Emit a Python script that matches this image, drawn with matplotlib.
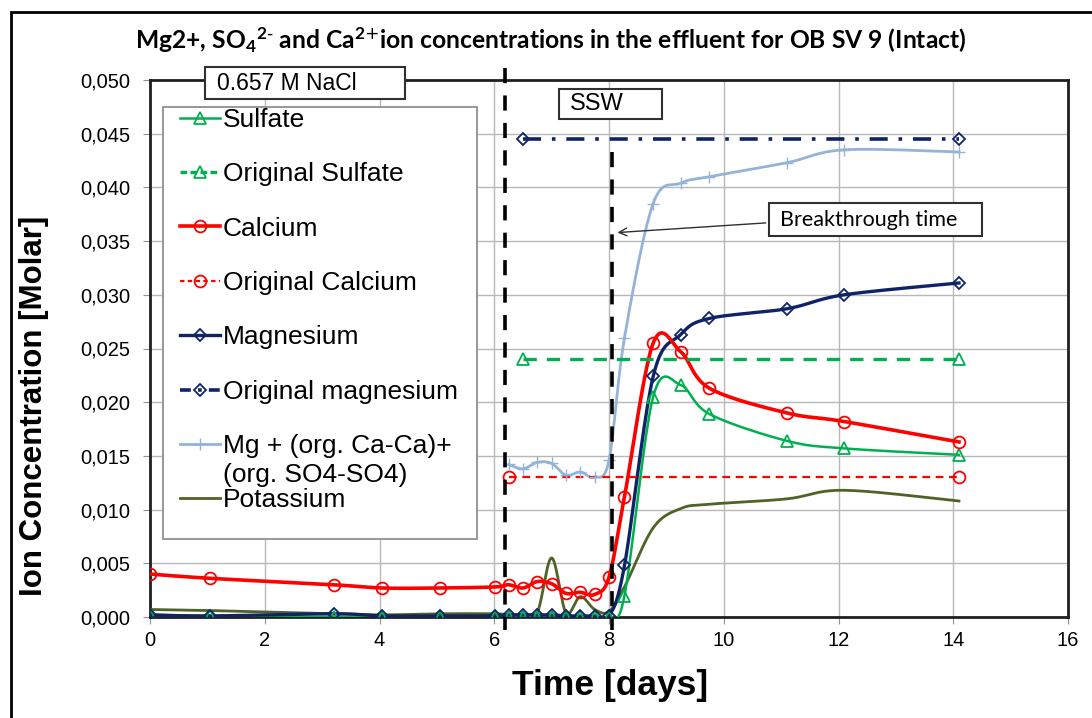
import numpy as np
import matplotlib.pyplot as plt
from matplotlib.patches import Rectangle
from matplotlib.lines import Line2D

# ---------------- data ----------------
t_ca = [0, 1.05, 3.2, 4.05, 5.05, 6.02, 6.25, 6.5, 6.75, 7.0, 7.25, 7.5, 7.75, 8.0, 8.27, 8.77, 9.25, 9.75, 11.1, 12.1, 14.1]
calcium = [0.0040, 0.0036, 0.0030, 0.0027, 0.0027, 0.0028, 0.0030, 0.0027, 0.0033, 0.0031, 0.0022, 0.0023, 0.0021, 0.0037,
           0.0112, 0.0255, 0.0247, 0.0213, 0.0190, 0.0182, 0.0163]
sulfate = [0.0002, 0.0001, 0.0000, 0.0000, 0.0000, 0.0000, 0.0000, 0.0000, 0.0000, 0.0000, 0.0000, 0.0000, 0.0000, 0.0000,
           0.0020, 0.0205, 0.0216, 0.0189, 0.0164, 0.0157, 0.0151]
magnesium = [0.0002, 0.0001, 0.0003, 0.0001, 0.0001, 0.0001, 0.0002, 0.0002, 0.0002, 0.0002, 0.0001, 0.0001, 0.0001, 0.0001,
             0.0048, 0.0224, 0.0263, 0.0278, 0.0287, 0.0300, 0.0311]
potassium = [0.0007, 0.0006, 0.0003, 0.0002, 0.0003, 0.0003, 0.0002, 0.0002, 0.0004, 0.0055, 0.0004, 0.0019, 0.0007, 0.0005,
             0.0028, 0.0083, 0.0101, 0.0105, 0.0110, 0.0118, 0.0108]

t_sum = [6.25, 6.5, 6.75, 7.0, 7.25, 7.5, 7.75, 8.0, 8.27, 8.77, 9.25, 9.75, 11.1, 12.1, 14.1]
mg_sum = [0.0142, 0.0138, 0.0144, 0.0143, 0.0132, 0.0135, 0.0130, 0.0146, 0.0260, 0.0385, 0.0404, 0.0410, 0.0423, 0.0435, 0.0433]

t_orig_ca = [6.25, 14.1]
orig_ca = [0.013, 0.013]
t_orig = [6.5, 14.1]
orig_so4 = [0.024, 0.024]
orig_mg = [0.0445, 0.0445]

x_ticks = list(range(0, 17, 2))
y_ticks = [i * 0.005 for i in range(11)]
y_labels = [f'{v:.3f}'.replace('.', ',') for v in y_ticks]

labels = ['Sulfate', 'Original Sulfate', 'Calcium', 'Original Calcium', 'Magnesium', 'Original magnesium',
          'Mg + (org. Ca-Ca)+', 'Potassium']
label_cont = '(org. SO4-SO4)'


# ---------------- helpers ----------------
def smooth(x, y, n=20):
    # excel style smoothed line (bezier through the points)
    x = np.asarray(x, float); y = np.asarray(y, float)
    if len(x) < 3:
        return x, y
    px = np.r_[x[0], x, x[-1]]
    py = np.r_[y[0], y, y[-1]]
    xs, ys = [], []
    for i in range(1, len(px) - 2):
        p0, p1, p2, p3 = [np.array([px[j], py[j]]) for j in (i - 1, i, i + 1, i + 2)]
        c1 = p1 + (p2 - p0) / 6
        c2 = p2 - (p3 - p1) / 6
        s = np.linspace(0, 1, n, endpoint=False)[:, None]
        pts = (1 - s) ** 3 * p1 + 3 * (1 - s) ** 2 * s * c1 + 3 * (1 - s) * s ** 2 * c2 + s ** 3 * p2
        xs.append(pts[:, 0]); ys.append(pts[:, 1])
    xs.append([x[-1]]); ys.append([y[-1]])
    return np.concatenate(xs), np.concatenate(ys)


def draw(ax, x, y, color, marker, lw=2.2, ms=8, ls='-', mew=1.3):
    sx, sy = smooth(x, y)
    ax.plot(sx, sy, color=color, lw=lw, ls=ls, zorder=3)
    if marker:
        ax.plot(x, y, ls='none', marker=marker, ms=ms, mfc='none', mec=color, mew=mew, zorder=4)


green = '#00b050'
red = '#ff0000'
navy = '#0f2466'
light = '#95b3d7'
olive = '#4f6228'

plt.rcParams['font.family'] = ['Liberation Sans', 'DejaVu Sans']
plt.rcParams['mathtext.default'] = 'regular'

fig = plt.figure(figsize=(10.92, 7.18), dpi=100)
ax = fig.add_axes([150 / 1092, 1 - 617 / 718, (1068 - 150) / 1092, (617 - 80) / 718])

# vertical markers (drawn from the top down)
ax.plot([6.18, 6.18], [0.0511, -0.0012], color='black', lw=2.6, ls=(0, (4.2, 3.4)), clip_on=False, zorder=5)
ax.plot([8.05, 8.05], [0.0433, -0.0012], color='black', lw=2.6, ls=(0, (4.2, 3.4)), clip_on=False, zorder=5)

draw(ax, t_ca, potassium, olive, None, lw=2.0)
draw(ax, t_sum, mg_sum, light, '+', lw=2.0, ms=9, mew=1.0)
draw(ax, t_ca, sulfate, green, '^', lw=1.8, ms=8)
draw(ax, t_ca, magnesium, navy, 'D', lw=2.4, ms=6.5)
draw(ax, t_ca, calcium, red, 'o', lw=2.6, ms=8.5)
ax.plot(t_orig_ca, orig_ca, color=red, lw=1.6, ls=(0, (3.5, 2.5)), marker='o', ms=8.5, mfc='none', mew=1.3, zorder=3)
ax.plot(t_orig, orig_so4, color=green, lw=2.4, ls=(0, (4, 3)), marker='^', ms=8, mfc='none', mew=1.3, zorder=3)
ax.plot(t_orig, orig_mg, color=navy, lw=2.6, ls=(0, (5, 3, 1, 3)), marker='D', ms=6.5, mfc='none', mew=1.3, zorder=3)

ax.set_xlim(0, 16)
ax.set_ylim(0, 0.05)
ax.set_xticks(x_ticks)
ax.set_yticks(y_ticks)
ax.set_yticklabels(y_labels)
ax.tick_params(labelsize=14.5, length=5, color='#909090')
ax.tick_params(axis='y', pad=9)
ax.tick_params(axis='x', pad=5)
ax.grid(True, color='#b8b8b8', lw=1.0)
ax.set_axisbelow(True)
for sp in ax.spines.values():
    sp.set_linewidth(2.0)
    sp.set_color('#202020')

ax.set_xlabel('Time [days]', fontsize=25.5, fontweight='bold')
ax.xaxis.set_label_coords((610 - 150) / 918, -(669 - 617) / 537)
ax.set_ylabel('Ion Concentration [Molar]', fontsize=22.5, fontweight='bold')
ax.yaxis.set_label_coords(-(150 - 49) / 918, (617 - 406) / 537)
fig.text(0.504, 1 - 40 / 718,
         r'Mg2+, SO$_4$$^{2\text{-}}$ and Ca$^{2\text{+}}$ion concentrations in the effluent for OB SV 9 (Intact)',
         ha='center', va='center', fontsize=17.7, fontweight='bold', family=['Lato', 'DejaVu Sans'])


# text boxes
def box(x0, x1, y0, y1, text, tx, ty, fs, fam=None):
    ax.add_patch(Rectangle((x0, y0), x1 - x0, y1 - y0, fc='white', ec='#303030', lw=1.5, clip_on=False, zorder=6))
    kw = {'family': fam} if fam else {}
    ax.text(tx, ty, text, fontsize=fs, va='center', ha='left', zorder=7, clip_on=False, **kw)


box(0.96, 4.45, 0.04823, 0.05121, '0.657 M NaCl', 1.16, 0.04972, 16.5)
box(7.13, 8.92, 0.04638, 0.04916, 'SSW', 7.31, 0.04777, 17)
box(10.78, 14.5, 0.0355, 0.03857, 'Breakthrough time', 10.98, 0.0370, 15.5, ['Lato', 'DejaVu Sans'])
ax.annotate('', xy=(8.1, 0.03578), xytext=(10.78, 0.03671),
            arrowprops=dict(arrowstyle='->', color='#303030', lw=1.0, mutation_scale=14), zorder=6)

# legend
handles = [
    Line2D([], [], color=green, lw=1.8, marker='^', ms=8, mfc='none', mew=1.3),
    Line2D([], [], color=green, lw=2.4, ls=(0, (2, 1)), marker='^', ms=8, mfc='none', mew=1.3),
    Line2D([], [], color=red, lw=2.6, marker='o', ms=8.5, mfc='none', mew=1.3),
    Line2D([], [], color=red, lw=1.6, ls=(0, (2, 1.5)), marker='o', ms=8.5, mfc='none', mew=1.3),
    Line2D([], [], color=navy, lw=2.4, marker='D', ms=6.5, mfc='none', mew=1.3),
    Line2D([], [], color=navy, lw=2.6, ls=(0, (3, 2, 1, 2)), marker='D', ms=6.5, mfc='none', mew=1.3),
    Line2D([], [], color=light, lw=2.0, marker='+', ms=9, mew=1.0),
    Line2D([], [], color=olive, lw=2.0),
]
ax.add_patch(Rectangle((163 / 1092, 1 - 539 / 718), (477 - 163) / 1092, (539 - 107) / 718, transform=fig.transFigure,
                       fc='white', ec='#909090', lw=1.3, clip_on=False, zorder=7))
leg = ax.legend(handles, labels, loc='upper left', bbox_to_anchor=(180 / 1092, 1 - 108 / 718),
                bbox_transform=fig.transFigure, fontsize=19, frameon=False,
                handlelength=1.5, handletextpad=0.12, labelspacing=1.15, borderpad=0, borderaxespad=0)
leg.set_zorder(8)
ax.text(223 / 1092, 1 - 475 / 718, label_cont, transform=fig.transFigure, fontsize=19, va='center', ha='left', zorder=9)

# outer frame of the chart
fig.patches.append(Rectangle((11 / 1092, -0.05), 1.1, 1 - 12 / 718 + 0.05, transform=fig.transFigure,
                             fill=False, ec='black', lw=2.0))

fig.savefig('out.png', dpi=100)
